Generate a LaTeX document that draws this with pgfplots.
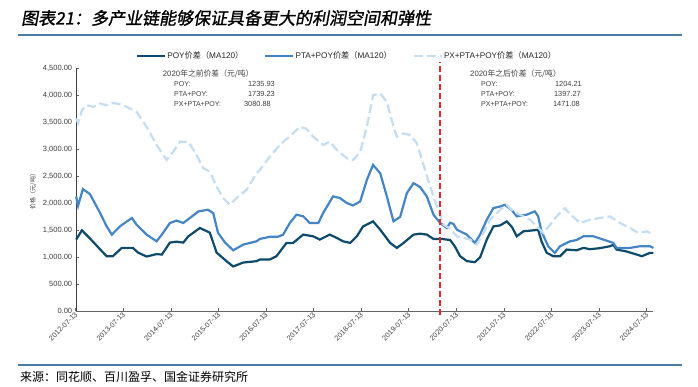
\documentclass[border=0pt]{standalone}
\usepackage{pgfplots}
\pgfplotsset{compat=1.18}
\usepackage{fontspec}
\setmainfont{Liberation Sans}
\newfontfamily\cjk{Noto Sans CJK SC}
\newfontfamily\cjkt[FakeSlant=0.18,FakeBold=1.2]{Noto Sans CJK SC}
\definecolor{poy}{HTML}{0D4A6B}
\definecolor{pta}{HTML}{4585C5}
\definecolor{px}{HTML}{C5DDF0}
\definecolor{redl}{HTML}{E0282E}
\definecolor{rule}{HTML}{4A7BA7}
\definecolor{txt}{HTML}{404040}
\begin{document}
\begin{tikzpicture}
\path[use as bounding box, fill=white] (0,0) rectangle (698pt,386pt);
\begin{axis}[
  at={(75.7pt,74.7pt)}, anchor=south west,
  scale only axis, width=577.6pt, height=243pt,
  xmin=2012.53, xmax=2024.67, ymin=0, ymax=4500,
  clip=false,
  axis x line*=bottom, axis y line*=left,
  x axis line style={draw=gray!80!black, -},
  y axis line style={draw=black!75, -},
  tick align=inside, major tick length=3pt,
  tick style={draw=gray!80!black, line width=0.6pt},
  xtick={2012.53,2013.53,2014.53,2015.53,2016.53,2017.53,2018.53,2019.53,2020.53,2021.53,2022.53,2023.53,2024.53},
  xticklabels={2012-07-13,2013-07-13,2014-07-13,2015-07-13,2016-07-13,2017-07-13,2018-07-13,2019-07-13,2020-07-13,2021-07-13,2022-07-13,2023-07-13,2024-07-13},
  xticklabel style={rotate=45, anchor=east, font=\fontsize{7.2}{8}\selectfont, text=txt, inner sep=1pt, yshift=-2pt},
  ytick={0,500,1000,1500,2000,2500,3000,3500,4000,4500},
  yticklabel style={font=\fontsize{7.5}{9}\selectfont, text=txt, /pgf/number format/.cd, fixed, fixed zerofill, precision=2, 1000 sep={,}, assume math mode=true},
  legend style={at={(0.099,1.052)}, anchor=west, draw=none, fill=none,
    font=\fontsize{8.2}{10}\selectfont, legend columns=3,
    nodes={inner sep=1pt, text=black!85},
    /tikz/every even column/.append style={column sep=20pt}},
  legend image code/.code={\draw[#1] (0pt,0pt) -- (28pt,0pt);},
]
\addplot[poy, line width=2.2pt] coordinates {
(2012.54,1328) (2012.66,1500) (2012.85,1330) (2013.04,1150) (2013.18,1020) (2013.31,1020) (2013.50,1175) (2013.73,1175) (2013.84,1088) (2014.02,1014) (2014.23,1060) (2014.34,1050) (2014.51,1272) (2014.65,1290) (2014.79,1272) (2014.90,1390) (2015.14,1543) (2015.35,1456) (2015.49,1088) (2015.70,928) (2015.84,830) (2016.05,903) (2016.33,928) (2016.40,959) (2016.61,960) (2016.75,1020) (2016.96,1266) (2017.10,1266) (2017.31,1420) (2017.52,1389) (2017.66,1328) (2017.87,1420) (2018.02,1358) (2018.15,1296) (2018.30,1266) (2018.44,1389) (2018.57,1573) (2018.78,1665) (2018.93,1512) (2019.14,1266) (2019.28,1174) (2019.42,1266) (2019.63,1420) (2019.77,1438) (2019.91,1420) (2020.05,1340) (2020.22,1340) (2020.40,1320) (2020.50,1200) (2020.61,1020) (2020.75,930) (2020.92,910) (2021.03,1000) (2021.17,1328) (2021.31,1573) (2021.45,1590) (2021.59,1665) (2021.70,1560) (2021.80,1389) (2021.94,1481) (2022.15,1500) (2022.25,1510) (2022.32,1296) (2022.43,1082) (2022.57,1020) (2022.71,1020) (2022.85,1143) (2023.06,1130) (2023.20,1174) (2023.34,1150) (2023.55,1170) (2023.76,1205) (2023.83,1230) (2023.90,1143) (2024.10,1110) (2024.32,1051) (2024.43,1020) (2024.60,1082) (2024.67,1082)
};
\addlegendentry{POY{\cjk 价差（}MA120{\cjk ）}}
\addplot[pta, line width=2.2pt] coordinates {
(2012.54,2126) (2012.58,1955) (2012.68,2263) (2012.83,2170) (2013.04,1825) (2013.18,1573) (2013.29,1420) (2013.46,1573) (2013.71,1728) (2013.81,1604) (2014.02,1420) (2014.23,1296) (2014.34,1420) (2014.51,1635) (2014.65,1680) (2014.79,1635) (2014.93,1728) (2015.11,1850) (2015.31,1881) (2015.42,1820) (2015.52,1456) (2015.67,1272) (2015.84,1130) (2016.05,1235) (2016.33,1296) (2016.40,1340) (2016.61,1380) (2016.78,1380) (2016.89,1420) (2017.03,1635) (2017.17,1789) (2017.31,1760) (2017.45,1635) (2017.63,1635) (2017.73,1820) (2017.94,2127) (2018.08,2100) (2018.23,2004) (2018.36,1960) (2018.51,2035) (2018.65,2435) (2018.78,2711) (2018.93,2557) (2019.07,2127) (2019.21,1665) (2019.35,1750) (2019.49,2188) (2019.63,2373) (2019.77,2300) (2019.91,2127) (2020.05,1789) (2020.19,1635) (2020.33,1543) (2020.40,1640) (2020.47,1620) (2020.54,1512) (2020.75,1420) (2020.92,1266) (2021.03,1420) (2021.17,1697) (2021.31,1912) (2021.45,1940) (2021.55,1973) (2021.69,1880) (2021.80,1758) (2022.01,1790) (2022.18,1850) (2022.25,1758) (2022.32,1481) (2022.46,1205) (2022.60,1082) (2022.71,1205) (2022.92,1296) (2023.06,1320) (2023.20,1389) (2023.41,1389) (2023.62,1328) (2023.83,1266) (2023.90,1174) (2024.18,1174) (2024.39,1205) (2024.60,1205) (2024.67,1174)
};
\addlegendentry{PTA+POY{\cjk 价差（}MA120{\cjk ）}}
\addplot[px, line width=2.2pt, dash pattern=on 9pt off 4pt] coordinates {
(2012.54,3572) (2012.58,3485) (2012.66,3725) (2012.76,3817) (2012.90,3786) (2013.04,3848) (2013.18,3817) (2013.32,3860) (2013.53,3817) (2013.81,3694) (2014.02,3417) (2014.23,3080) (2014.44,2803) (2014.58,2956) (2014.72,3140) (2014.90,3140) (2015.07,2895) (2015.21,2649) (2015.35,2588) (2015.49,2311) (2015.63,2097) (2015.77,1973) (2015.91,2097) (2016.12,2250) (2016.33,2557) (2016.40,2618) (2016.61,2864) (2016.82,3080) (2017.10,3295) (2017.24,3417) (2017.38,3380) (2017.52,3233) (2017.73,3080) (2017.87,3141) (2018.02,2988) (2018.23,2834) (2018.36,2800) (2018.51,2957) (2018.65,3417) (2018.78,4002) (2018.93,4033) (2019.07,3879) (2019.21,3417) (2019.28,3233) (2019.42,3295) (2019.56,3264) (2019.70,3111) (2019.84,2711) (2019.98,2311) (2020.12,1942) (2020.26,1604) (2020.40,1530) (2020.54,1390) (2020.82,1328) (2020.96,1235) (2021.10,1450) (2021.24,1697) (2021.45,1881) (2021.59,1973) (2021.73,1850) (2021.87,1789) (2022.08,1697) (2022.22,1573) (2022.36,1450) (2022.50,1604) (2022.64,1758) (2022.81,1912) (2022.92,1800) (2023.13,1635) (2023.34,1697) (2023.55,1728) (2023.76,1758) (2023.97,1635) (2024.18,1543) (2024.36,1450) (2024.53,1480) (2024.67,1420)
};
\addlegendentry{PX+PTA+POY{\cjk 价差（}MA120{\cjk ）}}
\addplot[forget plot, redl, line width=1.8pt, dash pattern=on 6pt off 3pt] coordinates {(2020.19,-60) (2020.19,4620)};
\end{axis}
% title and rules
\node[anchor=west, inner sep=0pt] at (21pt,368pt) {\cjkt\fontsize{17}{19}\selectfont 图表21：多产业链能够保证具备更大的利润空间和弹性};
\draw[rule, line width=1.6pt] (18pt,351pt) -- (682pt,351pt);
\draw[rule, line width=1.6pt] (18pt,21pt) -- (682pt,21pt);
\node[anchor=west, inner sep=0pt] at (20pt,9pt) {\cjk\fontsize{12}{14}\selectfont 来源：同花顺、百川盈孚、国金证券研究所};
% y label
\node[rotate=90, text=txt, inner sep=0pt] at (33pt,196pt) {\cjk\fontsize{6}{7}\selectfont 价格（元/吨）};
% annotations
\begin{scope}[every node/.style={inner sep=0pt, text=txt}]
\node[anchor=west] at (162.7pt,311.7pt) {\fontsize{7.8}{9}\selectfont 2020{\cjk 年之前价差（元/吨）}};
\node[anchor=west] at (174pt,301.7pt) {\fontsize{7}{8}\selectfont POY:};
\node[anchor=west] at (174pt,291.7pt) {\fontsize{7}{8}\selectfont PTA+POY:};
\node[anchor=west] at (174pt,281.7pt) {\fontsize{7}{8}\selectfont PX+PTA+POY:};
\node[anchor=east] at (275pt,301.7pt) {\fontsize{7.4}{8}\selectfont 1235.93};
\node[anchor=east] at (275pt,291.7pt) {\fontsize{7.4}{8}\selectfont 1739.23};
\node[anchor=east] at (271pt,281.7pt) {\fontsize{7.4}{8}\selectfont 3080.88};
\node[anchor=west] at (470pt,311.7pt) {\fontsize{7.8}{9}\selectfont 2020{\cjk 年之后价差（元/吨）}};
\node[anchor=west] at (481pt,301.7pt) {\fontsize{7}{8}\selectfont POY:};
\node[anchor=west] at (481pt,291.7pt) {\fontsize{7}{8}\selectfont PTA+POY:};
\node[anchor=west] at (481pt,281.7pt) {\fontsize{7}{8}\selectfont PX+PTA+POY:};
\node[anchor=east] at (582pt,301.7pt) {\fontsize{7.4}{8}\selectfont 1204.21};
\node[anchor=east] at (581pt,291.7pt) {\fontsize{7.4}{8}\selectfont 1397.27};
\node[anchor=east] at (580pt,281.7pt) {\fontsize{7.4}{8}\selectfont 1471.08};
\end{scope}
\end{tikzpicture}
\end{document}
